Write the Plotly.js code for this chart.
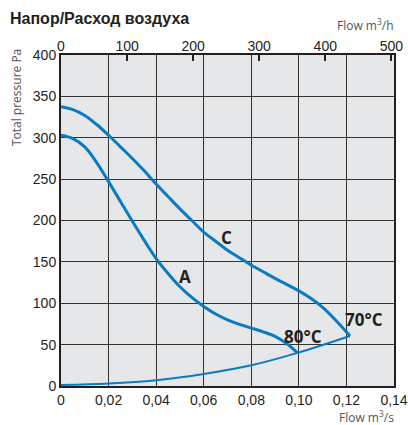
<!DOCTYPE html>
<html><head><meta charset="utf-8">
<script src="https://cdn.plot.ly/plotly-3.0.1.min.js"></script>
<style>html,body{margin:0;padding:0;background:#fff}#chart{width:408px;height:425px}</style>
</head><body><div id="chart"></div>
<script>
// Flow in m3/s, pressure in Pa
const curveC_flow = [0, 0.005, 0.01, 0.015, 0.02, 0.025, 0.03, 0.035, 0.04, 0.045, 0.05, 0.055, 0.06, 0.065, 0.07, 0.075, 0.08, 0.085, 0.09, 0.095, 0.10, 0.105, 0.11, 0.115, 0.1215];
const curveC_pa   = [337.5, 334, 327, 316, 303, 289, 275, 260, 244, 229, 214, 200, 186, 175, 164, 155, 146, 138, 130, 122.5, 115, 106, 95, 81, 60.4];
const curveA_flow = [0, 0.005, 0.01, 0.015, 0.02, 0.025, 0.03, 0.035, 0.04, 0.045, 0.05, 0.055, 0.06, 0.065, 0.07, 0.075, 0.08, 0.085, 0.09, 0.095, 0.0994];
const curveA_pa   = [303, 299, 289, 270, 247, 223, 199, 176, 154, 136, 120, 107, 96, 87, 80, 74.5, 70, 65.5, 60, 51, 40];
const system_flow = [0, 0.02, 0.04, 0.06, 0.08, 0.0994, 0.1215];
const system_pa   = [1.2, 3, 7, 14.5, 25, 40, 60.4];
const xTickVals = [0, 0.02, 0.04, 0.06, 0.08, 0.10, 0.12, 0.14];
const xTickText = ["0", "0,02", "0,04", "0,06", "0,08", "0,10", "0,12", "0,14"];
const topTickVals = [0, 100, 200, 300, 400, 500];
const labels = [
  {text: "C", x: 0.0694, y: 179},
  {text: "A", x: 0.0521, y: 132},
  {text: "80°C", x: 0.1017, y: 60},
  {text: "70°C", x: 0.1274, y: 80}
];

const blue = "#0a7bc2";
const dark = "#231f20";
const traces = [
  {x: curveC_flow, y: curveC_pa, mode: "lines", line: {color: blue, width: 3, shape: "spline", smoothing: 1}, hoverinfo: "skip"},
  {x: curveA_flow, y: curveA_pa, mode: "lines", line: {color: blue, width: 3, shape: "spline", smoothing: 1}, hoverinfo: "skip"},
  {x: system_flow, y: system_pa, mode: "lines", line: {color: blue, width: 2, shape: "spline", smoothing: 1}, hoverinfo: "skip"},
  {x: [0, 0.14*3600], y: [0, 0], xaxis: "x2", mode: "lines", line: {width: 0}, opacity: 0, hoverinfo: "skip"}
];

const anns = labels.map(l => ({
  text: l.text, x: l.x, y: l.y, xref: "x", yref: "y", showarrow: false,
  font: {family: "Open Sans", size: 17, color: dark, weight: "bold"}
}));
anns.push({text: "Flow m<sup>3</sup>/h", xref: "paper", yref: "paper", x: 1.006, y: 1.09, xanchor: "right", yanchor: "middle", showarrow: false,
  font: {family: "Open Sans", size: 12, color: "#555"}});
anns.push({text: "Flow m<sup>3</sup>/s", xref: "paper", yref: "paper", x: 1.006, y: -0.095, xanchor: "right", yanchor: "middle", showarrow: false,
  font: {family: "Open Sans", size: 12, color: "#555"}});
anns.push({text: "Total pressure Pa", xref: "paper", yref: "paper", x: -0.135, y: 0.87, xanchor: "center", yanchor: "middle", textangle: -90, showarrow: false,
  font: {family: "Open Sans", size: 12, color: "#555"}});

const layout = {
  width: 408, height: 425,
  margin: {l: 61, r: 14, t: 55, b: 39},
  paper_bgcolor: "#ffffff", plot_bgcolor: "#e6e7e8",
  showlegend: false,
  title: {text: "Напор/Расход воздуха", xref: "container", yref: "container", x: 10/408, xanchor: "left", y: 1 - 18/425, yanchor: "middle",
    font: {family: "Liberation Sans", size: 16, color: dark, weight: "bold"}},
  xaxis: {range: [0, 0.14], tickvals: xTickVals, ticktext: xTickText, showgrid: true, gridcolor: "#333", gridwidth: 1,
    zeroline: false, showline: true, linecolor: dark, linewidth: 2, mirror: true, ticks: "",
    tickfont: {family: "Liberation Sans", size: 14, color: dark}},
  xaxis2: {range: [0, 0.14*3600], overlaying: "x", side: "top", tickvals: topTickVals, showgrid: false, zeroline: false,
    ticks: "inside", ticklen: 6, tickwidth: 2, tickcolor: dark,
    tickfont: {family: "Liberation Sans", size: 14, color: dark}},
  yaxis: {range: [0, 400], dtick: 50, showgrid: true, gridcolor: "#333", gridwidth: 1, zeroline: false,
    showline: true, linecolor: dark, linewidth: 2, mirror: true, ticks: "",
    tickfont: {family: "Liberation Sans", size: 14, color: dark}},
  annotations: anns
};
Plotly.newPlot("chart", traces, layout, {staticPlot: true, displayModeBar: false});
</script></body></html>
